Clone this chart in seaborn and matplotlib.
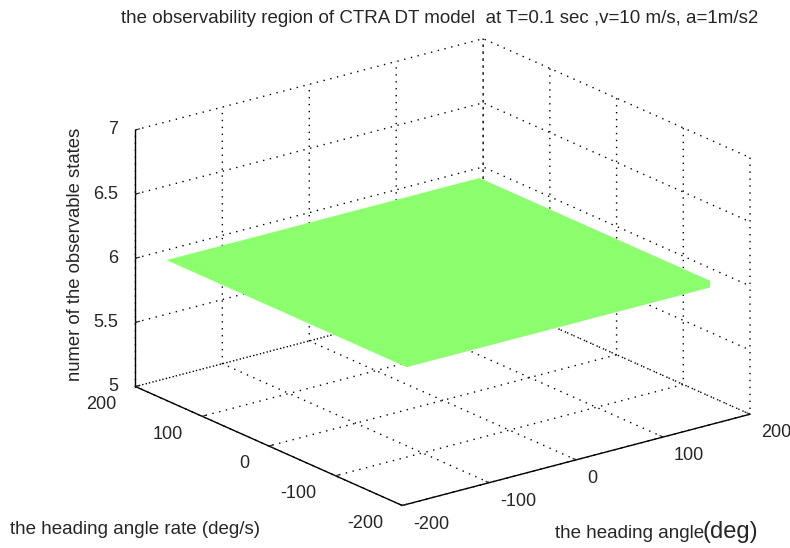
import numpy as np
import matplotlib
matplotlib.use("Agg")
import matplotlib.pyplot as plt
from matplotlib.ticker import NullFormatter
from mpl_toolkits.mplot3d import proj3d
import seaborn as sns

# ---- data ----
heading_angle = [-180, 180]          # deg (x)
heading_rate = [-180, 180]           # deg/s (y)
observable_states = [[6, 6], [6, 6]] # z
x_ticks = [-200, -100, 0, 100, 200]
y_ticks = [-200, -100, 0, 100, 200]
z_ticks = [5, 5.5, 6, 6.5, 7]
x_tick_labels = ["-200", "-100", "0", "100", "200"]
y_tick_labels = ["-200", "-100", "0", "100", "200"]
z_tick_labels = ["5", "5.5", "6", "6.5", "7"]
title = "the observability region of CTRA DT model  at T=0.1 sec ,v=10 m/s, a=1m/s2"
xlabel = "the heading angle"
xlabel_unit = "(deg)"
ylabel = "the heading angle rate (deg/s)"
zlabel = "numer of the observable states"

sns.set_style("white")
plt.rcParams['font.family'] = ['Liberation Sans', 'DejaVu Sans']
plt.rcParams['axes.unicode_minus'] = False

fig = plt.figure(figsize=(7.9, 5.48), dpi=100)
ax = fig.add_subplot(111, projection='3d', proj_type='ortho')
ax.set_position([0.051, -0.010, 1.0, 1.0])

X, Y = np.meshgrid(heading_angle, heading_rate)
Z = np.array(observable_states, dtype=float)
ax.plot_surface(X, Y, Z, color='#8cff6e', shade=False, linewidth=0, antialiased=False)

xmin, xmax = x_ticks[0], x_ticks[-1]
ymin, ymax = y_ticks[0], y_ticks[-1]
zmin, zmax = z_ticks[0], z_ticks[-1]
ax.set_xlim(xmin, xmax)
ax.set_ylim(ymin, ymax)
ax.set_zlim(zmin, zmax)
ax.set_xticks(x_ticks)
ax.set_yticks(y_ticks)
ax.set_zticks(z_ticks)
ax.view_init(elev=20, azim=-127.5)
ax.set_box_aspect((1, 1, 0.623), zoom=1.2)

for axis in (ax.xaxis, ax.yaxis, ax.zaxis):
    axis.set_major_formatter(NullFormatter())
    axis.set_tick_params(label1On=False, label2On=False)
    axis.label.set_visible(False)
    axis.pane.fill = False
    axis.pane.set_edgecolor('none')
    axis._axinfo['grid']['linestyle'] = (0, (1, 4))
    axis._axinfo['grid']['color'] = 'black'
    axis._axinfo['grid']['linewidth'] = 1.0
    axis._axinfo['axisline']['color'] = 'black'
    axis._axinfo['tick']['inward_factor'] = 0.0
    axis._axinfo['tick']['outward_factor'] = 0.15
    axis.line.set_color('black')
    axis.line.set_linewidth(1.0)

# tick labels placed just outside the axis lines, projected through the axes' own projection
fig.canvas.draw()
M = ax.get_proj()


def put(x, y, z, lab, **kw):
    x2, y2, _ = proj3d.proj_transform(x, y, z, M)
    ax.text2D(x2, y2, lab, transform=ax.transData, fontsize=13, **kw)


xr = xmax - xmin
zr = zmax - zmin
for xt, lab in zip(x_ticks, x_tick_labels):
    put(xt, ymin - 0.04 * xr, zmin - 0.054 * zr, lab, ha='left', va='center')
for yt, lab in zip(y_ticks, y_tick_labels):
    put(xmin - 0.055 * xr, yt, zmin - 0.05 * zr, lab, ha='right', va='center')
for zt, lab in zip(z_ticks, z_tick_labels):
    put(xmin - 0.031 * xr, ymax + 0.024 * xr, zt, lab, ha='right', va='center')

fig.text(0.557, 0.967, title, ha='center', va='center', fontsize=13.5)
fig.text(0.013, 0.034, ylabel, ha='left', va='center', fontsize=13.5)
fig.text(0.7025, 0.026, xlabel, ha='left', va='center', fontsize=13.5)
fig.text(0.889, 0.029, xlabel_unit, ha='left', va='center', fontsize=17)
fig.text(0.095, 0.535, zlabel, ha='center', va='center', rotation=90, fontsize=13.3)

fig.savefig("out.png", dpi=100)
